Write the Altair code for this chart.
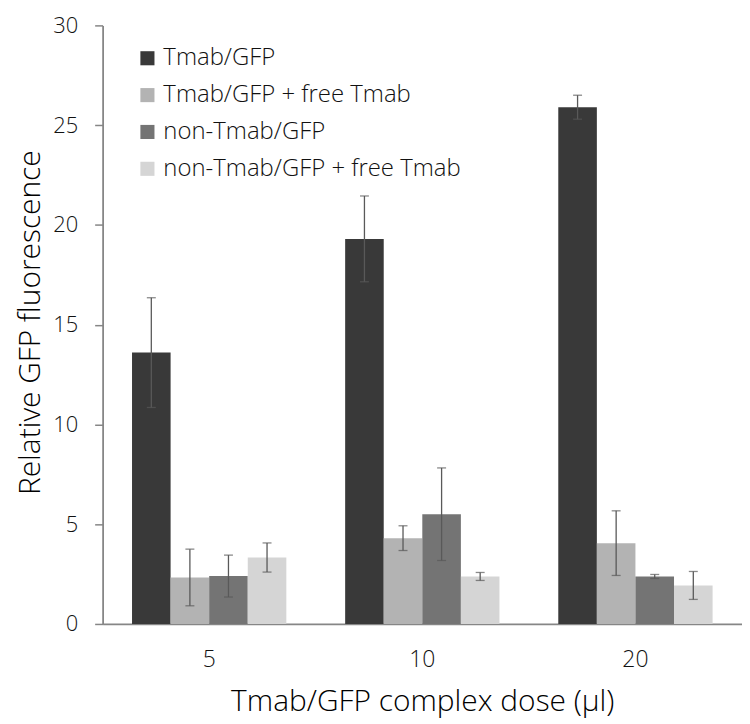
import altair as alt
import pandas as pd

doses = ["5", "10", "20"]
series = ["Tmab/GFP", "Tmab/GFP + free Tmab", "non-Tmab/GFP", "non-Tmab/GFP + free Tmab"]
colors = ["#393939", "#b3b3b3", "#747474", "#d5d5d5"]

means = {
    "Tmab/GFP": [13.6, 19.3, 25.9],
    "Tmab/GFP + free Tmab": [2.33, 4.3, 4.05],
    "non-Tmab/GFP": [2.4, 5.5, 2.38],
    "non-Tmab/GFP + free Tmab": [3.33, 2.38, 1.93],
}
errors = {
    "Tmab/GFP": [2.75, 2.15, 0.6],
    "Tmab/GFP + free Tmab": [1.42, 0.62, 1.62],
    "non-Tmab/GFP": [1.05, 2.32, 0.1],
    "non-Tmab/GFP + free Tmab": [0.73, 0.2, 0.7],
}

rows = []
for s in series:
    for i, d in enumerate(doses):
        m = means[s][i]
        e = errors[s][i]
        rows.append({"dose": d, "series": s, "value": m, "lo": m - e, "hi": m + e})
df = pd.DataFrame(rows)

FONT = "Open Sans"
TOP = 16
H = 601

x = alt.X(
    "dose:N",
    sort=doses,
    scale=alt.Scale(paddingInner=0.276, paddingOuter=0.138),
    axis=alt.Axis(
        title="Tmab/GFP complex dose (µl)",
        labelAngle=0,
        ticks=False,
        labelPadding=25,
        labelFontSize=23,
        titleFontSize=30,
        titleY=87,
        titleBaseline="alphabetic",
    ),
)
xo = alt.XOffset("series:N", sort=series, scale=alt.Scale(paddingInner=0, paddingOuter=0))

bars = alt.Chart(df).mark_bar().encode(
    x=x,
    xOffset=xo,
    y=alt.Y(
        "value:Q",
        scale=alt.Scale(domain=[0, 30], nice=False),
        axis=alt.Axis(
            title="Relative GFP fluorescence",
            values=[0, 5, 10, 15, 20, 25, 30],
            grid=False,
            tickSize=8,
            labelPadding=17,
            labelFontSize=22,
            titleFontSize=30,
            titleX=-63,
            titleY=298,
            titleBaseline="alphabetic",
        ),
    ),
    color=alt.Color(
        "series:N",
        sort=series,
        scale=alt.Scale(domain=series, range=colors),
        legend=alt.Legend(
            title=None,
            orient="none",
            legendX=33,
            legendY=21,
            symbolType="square",
            symbolSize=200,
            symbolStrokeWidth=0,
            labelFontSize=24,
            labelOffset=4,
            labelLimit=0,
            rowPadding=13,
            labelColor="#111111",
        ),
    ),
)

err = alt.Chart(df).mark_rule(color="#595959", strokeWidth=1.3).encode(
    x=alt.X("dose:N", sort=doses),
    xOffset=xo,
    y="lo:Q",
    y2="hi:Q",
)
cap_hi = alt.Chart(df).mark_tick(color="#595959", thickness=1.3, size=9).encode(
    x=alt.X("dose:N", sort=doses),
    xOffset=xo,
    y="hi:Q",
)
cap_lo = alt.Chart(df).mark_tick(color="#595959", thickness=1.3, size=9).encode(
    x=alt.X("dose:N", sort=doses),
    xOffset=xo,
    y="lo:Q",
)

chart = (
    alt.layer(bars, err, cap_hi, cap_lo)
    .properties(
        width=642,
        height=H,
        autosize=alt.AutoSizeParams(type="none"),
        padding={"left": 95, "top": TOP, "right": 0, "bottom": 99},
    )
    .configure_view(stroke=None)
    .configure_axis(
        domainColor="#868686",
        domainWidth=1.8,
        tickColor="#868686",
        tickWidth=1.5,
        labelColor="#111111",
        titleColor="#000000",
        labelFont=FONT,
        titleFont=FONT,
        titleFontWeight=300,
        labelFontWeight=300,
    )
    .configure_legend(labelFont=FONT, labelFontWeight=300)
)

chart.save("out.html", embed_options={"renderer": "svg", "actions": False})
